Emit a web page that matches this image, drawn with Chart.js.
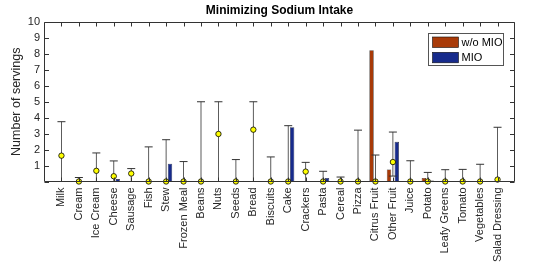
<!DOCTYPE html>
<html>
<head>
<meta charset="utf-8">
<script src="https://cdn.jsdelivr.net/npm/chart.js@4/dist/chart.umd.min.js"></script>
<style>
html,body{margin:0;padding:0;background:#fff;}
#wrap{width:538px;height:264px;}
</style>
</head>
<body>
<div id="wrap"><canvas id="c" width="538" height="264"></canvas></div>
<script>
// ---- data ----
const categories = ['Milk','Cream','Ice Cream','Cheese','Sausage','Fish','Stew','Frozen Meal','Beans','Nuts','Seeds','Bread','Biscuits','Cake','Crackers','Pasta','Cereal','Pizza','Citrus Fruit','Other Fruit','Juice','Potato','Leafy Greens','Tomato','Vegetables','Salad Dressing'];
const withoutMIO = [0,0,0,0,0,0,0,0,0,0,0,0,0,0,0,0,0,0,8.23,0.76,0,0.22,0,0,0,0];
const withMIO    = [0,0,0,0.15,0,0,1.12,0,0,0,0,0,0,3.4,0,0.22,0,0,0,2.49,0,0.06,0,0,0,0];
const meanVals   = [1.62,0,0.67,0.33,0.5,0,0,0,0,2.98,0,3.25,0,0,0.62,0,0,0,0,1.22,0,0,0,0,0,0.12];
const errHigh    = [3.75,0.25,1.79,1.29,0.81,2.17,2.62,1.25,5,5,1.375,5,1.54,3.5,1.2,0.64,0.28,3.22,1.66,3.1,1.3,0.57,0.74,0.76,1.08,3.4];
const errLow     = [0,0,0,0,0,0,0,0,0,0,0,0,0,0,0,0,0,0,0,0.34,0,0,0,0,0,0];
const yTicks     = [0,1,2,3,4,5,6,7,8,9,10];
const seriesNames = ['w/o MIO','MIO'];

// padded with an empty slot at each end (axis runs 0..27)
const labels = [''].concat(categories, ['']);
const pad = a => [null].concat(a, [null]);

const C_ORANGE = '#A83A08';
const C_BLUE = '#172B8C';
const C_TEXT = '#262626';

Chart.defaults.font.family = "'Liberation Sans', Arial, sans-serif";
Chart.defaults.color = C_TEXT;

const framePlugin = {
  id: 'frame',
  afterDraw(chart) {
    const ctx = chart.ctx, ca = chart.chartArea;
    const xs = chart.scales.x, ys = chart.scales.y;
    ctx.save();
    ctx.strokeStyle = '#333';
    ctx.lineWidth = 1;
    const L = Math.round(ca.left) + 0.5, R = Math.round(ca.right) - 0.5;
    const T = Math.round(ca.top) + 0.5, B = Math.round(ca.bottom) - 0.5;
    ctx.beginPath();
    ctx.rect(L, T, R - L, B - T);
    // y ticks (inward, both sides)
    yTicks.forEach(v => {
      const p = Math.round(ys.getPixelForValue(v)) + 0.5;
      ctx.moveTo(L, p); ctx.lineTo(L + 4.5, p);
      ctx.moveTo(R, p); ctx.lineTo(R - 4.5, p);
    });
    // x ticks (inward, top and bottom)
    categories.forEach((c, i) => {
      const p = Math.round(xs.getPixelForValue(i + 1)) + 0.5;
      ctx.moveTo(p, T); ctx.lineTo(p, T + 4);
      ctx.moveTo(p, B); ctx.lineTo(p, B - 4);
    });
    ctx.stroke();

    // legend inside the plot, top right
    const bw = 75, bh = 32;
    const bx = Math.round(ca.right - 12 - bw) + 0.5, by = Math.round(ca.top + 11) + 0.5;
    ctx.fillStyle = '#fff';
    ctx.fillRect(bx, by, bw, bh);
    ctx.strokeStyle = '#555';
    ctx.strokeRect(bx, by, bw, bh);
    const cols = [C_ORANGE, C_BLUE];
    ctx.font = "11px 'Liberation Sans', Arial, sans-serif";
    ctx.textBaseline = 'middle';
    ctx.textAlign = 'left';
    seriesNames.forEach((n, i) => {
      const sy = by + 3.5 + i * 15.3;
      ctx.fillStyle = cols[i];
      ctx.fillRect(bx + 4, sy, 26, 10.5);
      ctx.strokeStyle = '#111';
      ctx.lineWidth = 0.6;
      ctx.strokeRect(bx + 4, sy, 26, 10.5);
      ctx.fillStyle = '#000';
      ctx.fillText(n, bx + 33, sy + 5.6);
    });
    ctx.restore();
  }
};

new Chart(document.getElementById('c'), {
  type: 'bar',
  data: {
    labels: labels,
    datasets: [
      {
        label: seriesNames[0], data: pad(withoutMIO), backgroundColor: C_ORANGE,
        borderColor: '#1a1a1a', borderWidth: 0.6, borderSkipped: false,
        categoryPercentage: 0.895, barPercentage: 0.56, order: 3
      },
      {
        label: seriesNames[1], data: pad(withMIO), backgroundColor: C_BLUE,
        borderColor: '#1a1a1a', borderWidth: 0.6, borderSkipped: false,
        categoryPercentage: 0.895, barPercentage: 0.56, order: 3
      },
      {
        label: 'range', data: pad(errLow.map((lo, i) => [lo, errHigh[i]])),
        backgroundColor: '#3c3c3c', borderWidth: 0, grouped: false,
        barPercentage: 0.06, maxBarThickness: 1, order: 2
      },
      {
        type: 'line', label: 'capHigh', data: pad(errHigh), showLine: false,
        pointStyle: 'line', pointRadius: 4, pointBorderColor: '#333', pointBorderWidth: 1,
        order: 1
      },
      {
        type: 'line', label: 'capLow', data: pad(errLow.map(v => v > 0 ? v : null)), showLine: false,
        pointStyle: 'line', pointRadius: 4, pointBorderColor: '#333', pointBorderWidth: 1,
        order: 1
      },
      {
        type: 'line', label: 'mean', data: pad(meanVals), showLine: false,
        pointStyle: 'circle', pointRadius: 2.7, pointBackgroundColor: '#FFFF00',
        pointBorderColor: '#000', pointBorderWidth: 0.8, order: 0, clip: false
      }
    ]
  },
  options: {
    responsive: false,
    animation: false,
    events: [],
    layout: { padding: { left: 0, right: 23, top: 0, bottom: 0 } },
    plugins: {
      legend: { display: false },
      tooltip: { enabled: false },
      title: {
        display: true, text: 'Minimizing Sodium Intake', fullSize: false,
        font: { size: 12, weight: 'bold' }, color: '#000',
        padding: { top: 3, bottom: 4.6 }
      }
    },
    scales: {
      x: {
        offset: false,
        ticks: { autoSkip: false, maxRotation: 90, minRotation: 90, font: { size: 11 }, color: C_TEXT, padding: -2 },
        grid: { display: false },
        border: { display: false },
        afterFit: s => { s.height = 82.5; }
      },
      y: {
        min: 0, max: 10,
        afterBuildTicks: s => { s.ticks = yTicks.map(v => ({ value: v })); },
        ticks: { autoSkip: false, font: { size: 11 }, color: C_TEXT, padding: 4, callback: v => (v === 0 ? '' : v) },
        grid: { display: false, drawTicks: false, tickLength: 0 },
        border: { display: false },
        title: { display: true, text: 'Number of servings', font: { size: 12.5 }, color: C_TEXT, padding: { top: 9, bottom: 0 } },
        afterFit: s => { s.width = 44; }
      }
    }
  },
  plugins: [framePlugin]
});
</script>
</body>
</html>
